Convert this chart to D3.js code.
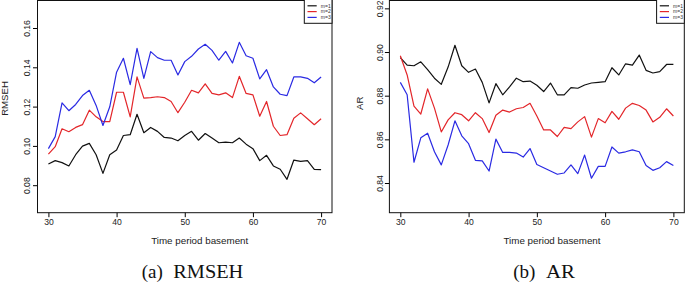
<!DOCTYPE html>
<html>
<head>
<meta charset="utf-8">
<script src="https://cdn.jsdelivr.net/npm/d3@7"></script>
<style>
  body { margin: 0; background: #fff; }
  svg { display: block; }
</style>
</head>
<body>
<div id="graph"></div>
<script>
// time period basement (x values)
var periods = [30, 31, 32, 33, 34, 35, 36, 37, 38, 39, 40, 41, 42, 43, 44, 45, 46, 47, 48, 49, 50,
               51, 52, 53, 54, 55, 56, 57, 58, 59, 60, 61, 62, 63, 64, 65, 66, 67, 68, 69, 70];

// RMSEH, one series per m
var rmsehM1 = [0.0908, 0.0925, 0.0915, 0.0898, 0.0955, 0.0999, 0.1013, 0.0955, 0.0860, 0.0955, 0.0979,
               0.1053, 0.1057, 0.1161, 0.1067, 0.1094, 0.1074, 0.1043, 0.1040, 0.1026, 0.1053,
               0.1074, 0.1029, 0.1063, 0.1040, 0.1016, 0.1019, 0.1016, 0.1040, 0.1009, 0.0986,
               0.0925, 0.0952, 0.0898, 0.0881, 0.0830, 0.0928, 0.0921, 0.0925, 0.0881, 0.0879];
var rmsehM2 = [0.0958, 0.0996, 0.1087, 0.1072, 0.1094, 0.1108, 0.1182, 0.1148, 0.1124, 0.1124, 0.1273,
               0.1273, 0.1148, 0.1351, 0.1243, 0.1246, 0.1250, 0.1246, 0.1226, 0.1169, 0.1222,
               0.1283, 0.1270, 0.1316, 0.1267, 0.1260, 0.1270, 0.1246, 0.1354, 0.1267, 0.1260,
               0.1151, 0.1226, 0.1100, 0.1053, 0.1057, 0.1141, 0.1168, 0.1138, 0.1108, 0.1138];
var rmsehM3 = [0.0986, 0.1047, 0.1219, 0.1179, 0.1211, 0.1256, 0.1283, 0.1206, 0.1104, 0.1199, 0.1375,
               0.1446, 0.1312, 0.1496, 0.1344, 0.1480, 0.1449, 0.1436, 0.1436, 0.1361, 0.1429,
               0.1456, 0.1493, 0.1517, 0.1486, 0.1436, 0.1481, 0.1422, 0.1527, 0.1459, 0.1446,
               0.1341, 0.1388, 0.1300, 0.1263, 0.1256, 0.1351, 0.1351, 0.1344, 0.1321, 0.1351];

// AR, one series per m
var arM1 = [0.8974, 0.8940, 0.8937, 0.8955, 0.8919, 0.8880, 0.8852, 0.8931, 0.9031, 0.8937, 0.8907,
            0.8922, 0.8861, 0.8767, 0.8855, 0.8804, 0.8840, 0.8880, 0.8864, 0.8867, 0.8848,
            0.8819, 0.8858, 0.8804, 0.8804, 0.8837, 0.8834, 0.8849, 0.8858, 0.8861, 0.8864,
            0.8928, 0.8895, 0.8946, 0.8940, 0.8986, 0.8916, 0.8904, 0.8910, 0.8943, 0.8943];
var arM2 = [0.8983, 0.8895, 0.8752, 0.8716, 0.8831, 0.8743, 0.8634, 0.8689, 0.8722, 0.8713, 0.8685,
            0.8722, 0.8695, 0.8631, 0.8710, 0.8734, 0.8725, 0.8740, 0.8746, 0.8765, 0.8707,
            0.8643, 0.8643, 0.8613, 0.8655, 0.8649, 0.8680, 0.8704, 0.8610, 0.8695, 0.8676,
            0.8728, 0.8692, 0.8743, 0.8765, 0.8755, 0.8734, 0.8680, 0.8701, 0.8740, 0.8707];
var arM3 = [0.8861, 0.8804, 0.8495, 0.8607, 0.8628, 0.8543, 0.8483, 0.8574, 0.8685, 0.8616, 0.8580,
            0.8504, 0.8501, 0.8455, 0.8601, 0.8540, 0.8540, 0.8537, 0.8519, 0.8558, 0.8485,
            0.8470, 0.8455, 0.8440, 0.8446, 0.8483, 0.8443, 0.8528, 0.8422, 0.8476, 0.8476,
            0.8565, 0.8537, 0.8543, 0.8552, 0.8543, 0.8480, 0.8458, 0.8470, 0.8498, 0.8480];

var seriesNames = ['m=1', 'm=2', 'm=3'];
var xTicks = [30, 40, 50, 60, 70];
var rmsehTicks = [0.08, 0.10, 0.12, 0.14, 0.16];
var arTicks = [0.84, 0.86, 0.88, 0.90, 0.92];

var colors = ['#111111', '#e3262a', '#2a2ae3'];
var sans = 'Liberation Sans, Arial, sans-serif';
var serif = 'Liberation Serif, Times New Roman, serif';

var svg = d3.select('#graph')
    .append('svg')
        .attr('width', 685)
        .attr('height', 283);

function drawPanel(p) {
    var x = d3.scaleLinear()
        .domain([28.4, 71.6])
        .range([p.left, p.right]);
    var y = d3.scaleLinear()
        .domain(p.yDomain)
        .range([212.7, 0.5]);

    var g = svg.append('g');

    // x axis
    var xAxis = g.append('g')
        .attr('transform', 'translate(0,212.7)')
        .call(d3.axisBottom(x).tickValues(xTicks).tickSize(4.5).tickPadding(2.2));
    xAxis.select('.domain').remove();
    xAxis.selectAll('text')
        .style('font-family', sans)
        .style('font-size', '8.6px')
        .attr('fill', '#222');

    // y axis, labels turned like in R
    var yAxis = g.append('g')
        .attr('transform', 'translate(' + p.left + ',0)')
        .call(d3.axisLeft(y).tickValues(p.yTicks).tickSize(4.5).tickFormat(d3.format('.2f')));
    yAxis.select('.domain').remove();
    yAxis.selectAll('text')
        .attr('transform', 'rotate(-90)')
        .attr('x', 0)
        .attr('y', -p.tickLabelGap)
        .attr('dy', 0)
        .attr('text-anchor', 'middle')
        .style('font-family', sans)
        .style('font-size', '8.6px')
        .attr('fill', '#222');

    // lines
    var line = d3.line()
        .x(function(d, i) { return x(periods[i]); })
        .y(function(d) { return y(d); });

    p.series.forEach(function(s, k) {
        g.append('path')
            .datum(s)
            .attr('d', line)
            .attr('fill', 'none')
            .attr('stroke', colors[k])
            .attr('stroke-width', 1.2)
            .attr('stroke-linejoin', 'round');
    });

    // plot box
    g.append('rect')
        .attr('x', p.left)
        .attr('y', 0.5)
        .attr('width', p.right - p.left)
        .attr('height', 212.2)
        .attr('fill', 'none')
        .attr('stroke', '#111')
        .attr('stroke-width', 1);

    // legend
    var lg = g.append('g');
    lg.append('rect')
        .attr('x', p.right - 27.7)
        .attr('y', -1)
        .attr('width', 27.7)
        .attr('height', 24.3)
        .attr('fill', '#fff')
        .attr('stroke', '#111')
        .attr('stroke-width', 1);
    seriesNames.forEach(function(name, k) {
        var ly = 5.8 + k * 5.8;
        lg.append('line')
            .attr('x1', p.right - 24.5)
            .attr('x2', p.right - 15.3)
            .attr('y1', ly)
            .attr('y2', ly)
            .attr('stroke', colors[k])
            .attr('stroke-width', 1.2);
        lg.append('text')
            .attr('x', p.right - 11.2)
            .attr('y', ly + 1.7)
            .style('font-family', sans)
            .style('font-size', '5px')
            .attr('fill', '#333')
            .text(name);
    });

    // axis titles
    g.append('text')
        .attr('x', p.xLabelX)
        .attr('y', 243.6)
        .attr('text-anchor', 'middle')
        .style('font-family', sans)
        .style('font-size', '9.8px')
        .attr('fill', '#222')
        .text('Time period basement');

    g.append('text')
        .attr('transform', 'translate(' + p.yLabelX + ',' + p.yLabelY + ') rotate(-90)')
        .attr('text-anchor', 'middle')
        .style('font-family', sans)
        .style('font-size', '9.6px')
        .attr('fill', '#222')
        .text(p.yLabel);

    // caption under the panel: tag and name
    g.append('text')
        .attr('x', p.tagX)
        .attr('y', 278.3)
        .style('font-family', serif)
        .style('font-size', '19px')
        .attr('fill', '#111')
        .text(p.tag);
    g.append('text')
        .attr('x', p.nameX)
        .attr('y', 278.3)
        .attr('textLength', p.nameW)
        .attr('lengthAdjust', 'spacingAndGlyphs')
        .style('font-family', serif)
        .style('font-size', '19px')
        .attr('fill', '#111')
        .text(p.yLabel);
}

drawPanel({
    left: 37.5, right: 332,
    yDomain: [0.066, 0.174], yTicks: rmsehTicks, tickLabelGap: 8,
    series: [rmsehM1, rmsehM2, rmsehM3],
    yLabel: 'RMSEH', yLabelX: 8.4, yLabelY: 98.5,
    xLabelX: 199.7,
    tag: '(a)', tagX: 141.7, nameX: 173.3, nameW: 70
});

drawPanel({
    left: 389.4, right: 684.3,
    yDomain: [0.8264, 0.9236], yTicks: arTicks, tickLabelGap: 6.2,
    series: [arM1, arM2, arM3],
    yLabel: 'AR', yLabelX: 362.8, yLabelY: 103.3,
    xLabelX: 552,
    tag: '(b)', tagX: 513.3, nameX: 546, nameW: 29
});
</script>
</body>
</html>
